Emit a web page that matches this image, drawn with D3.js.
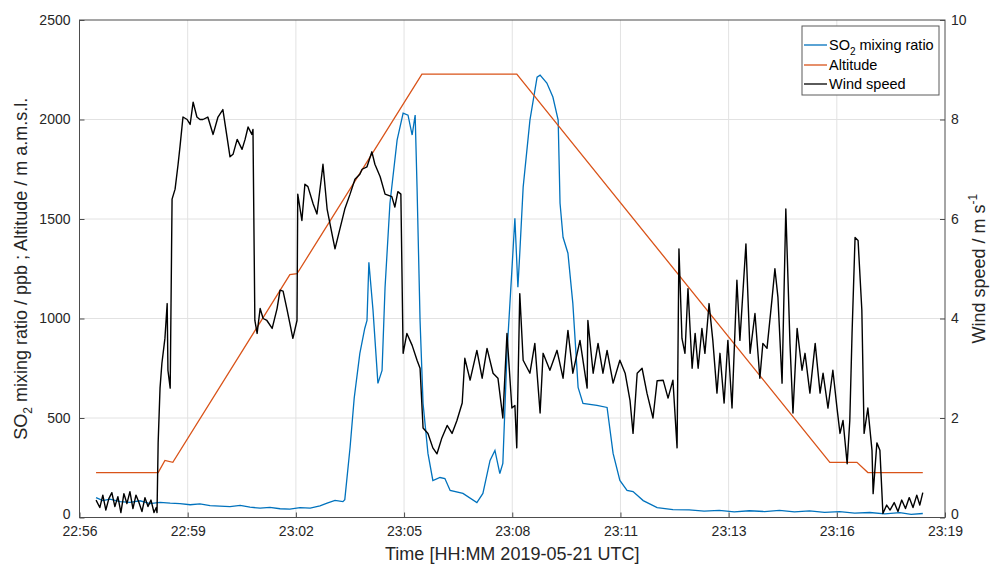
<!DOCTYPE html>
<html>
<head>
<meta charset="utf-8">
<script src="https://cdn.jsdelivr.net/npm/d3@7"></script>
<style>
body { margin: 0; background: #fff; }
svg { font-family: "Liberation Sans", Arial, sans-serif; }
.grid line { stroke: #e2e2e2; stroke-width: 1; }
.axis path { display: none; }
.axis line { stroke: #4d4d4d; }
.axis text { font-size: 14px; fill: #262626; }
.label { font-size: 18px; fill: #262626; }
.legend { font-size: 14.5px; fill: #000; }
</style>
</head>
<body>
<svg id="chart" width="991" height="565"></svg>
<script>
// tick labels of the time axis (evenly spaced)
const timeTicks = ["22:56", "22:59", "23:02", "23:05", "23:08", "23:11", "23:13", "23:16", "23:19"];
const leftTicks = [0, 500, 1000, 1500, 2000, 2500];
const rightTicks = [0, 2, 4, 6, 8, 10];

// [minutes after 22:56, ppb]
const so2Data = [
  [0.44, 100], [0.62, 85], [0.81, 92], [1.08, 80], [1.34, 76], [1.61, 84], [1.87, 70], [2.14, 76],
  [2.41, 72], [2.67, 70], [2.94, 64], [3.20, 68], [3.47, 60], [3.73, 57], [4.00, 55], [4.27, 61],
  [4.53, 52], [4.80, 47], [5.06, 51], [5.33, 44], [5.59, 42], [5.86, 50], [6.13, 47], [6.39, 58],
  [6.58, 72], [6.79, 86], [7.00, 80], [7.05, 90], [7.19, 352], [7.30, 600], [7.45, 825], [7.58, 950],
  [7.64, 990], [7.69, 1283], [7.80, 1041], [7.93, 674], [8.04, 739], [8.12, 1157], [8.25, 1579],
  [8.44, 1896], [8.60, 2032], [8.73, 2022], [8.84, 1922], [8.92, 2022], [8.97, 1660], [9.05, 990],
  [9.13, 573], [9.26, 322], [9.39, 186], [9.58, 201], [9.71, 196], [9.85, 136], [10.19, 121],
  [10.56, 75], [10.72, 121], [10.91, 287], [11.04, 337], [11.17, 221], [11.25, 272], [11.36, 825],
  [11.49, 1242], [11.57, 1504], [11.65, 1157], [11.70, 1328], [11.79, 1660], [11.97, 1997],
  [12.16, 2213], [12.24, 2223], [12.42, 2183], [12.58, 2113], [12.72, 1997], [12.77, 1579],
  [12.85, 1408], [12.98, 1328], [13.11, 1076], [13.25, 654], [13.38, 573], [13.75, 563], [14.02, 553],
  [14.18, 322], [14.36, 186], [14.55, 136], [14.71, 130], [14.98, 85], [15.35, 50], [15.77, 40],
  [16.20, 38], [16.60, 32], [17.00, 36], [17.40, 28], [17.80, 34], [18.20, 30], [18.60, 36],
  [19.00, 28], [19.40, 33], [19.80, 26], [20.20, 30], [20.60, 22], [21.00, 25], [21.40, 18],
  [21.80, 24], [22.10, 16], [22.41, 20]
];

// [minutes after 22:56, m a.m.s.l.]
const altitudeData = [
  [0.44, 226], [2.09, 226], [2.27, 287], [2.48, 277], [5.59, 1220], [5.78, 1225], [9.10, 2228],
  [11.62, 2228], [19.94, 277], [20.66, 277], [20.95, 226], [22.41, 226]
];

// [minutes after 22:56, m/s]
const windData = [
  [0.44, 0.35], [0.54, 0.20], [0.62, 0.45], [0.70, 0.15], [0.78, 0.38], [0.86, 0.50], [0.94, 0.22],
  [1.02, 0.42], [1.10, 0.10], [1.18, 0.48], [1.26, 0.28], [1.34, 0.52], [1.42, 0.18], [1.50, 0.45],
  [1.58, 0.30], [1.66, 0.12], [1.74, 0.40], [1.82, 0.22], [1.90, 0.35], [1.98, 0.10], [2.04, 0.20],
  [2.06, 0.10], [2.09, 1.5], [2.14, 2.6], [2.19, 3.1], [2.27, 3.6], [2.33, 4.3], [2.35, 2.96],
  [2.41, 2.6], [2.46, 6.4], [2.54, 6.6], [2.62, 7.1], [2.67, 7.45], [2.75, 8.05], [2.86, 8.0],
  [2.94, 7.9], [3.02, 8.35], [3.12, 8.05], [3.20, 8.0], [3.28, 8.0], [3.41, 8.05], [3.55, 7.7],
  [3.68, 8.05], [3.81, 8.2], [3.92, 7.65], [4.00, 7.25], [4.08, 7.3], [4.19, 7.6], [4.32, 7.4],
  [4.40, 7.6], [4.48, 7.85], [4.58, 7.7], [4.61, 7.8], [4.66, 3.96], [4.72, 3.7], [4.80, 4.2],
  [4.88, 4.0], [4.98, 3.96], [5.12, 3.8], [5.25, 4.2], [5.33, 4.57], [5.41, 4.55], [5.51, 4.2],
  [5.59, 3.9], [5.67, 3.6], [5.78, 3.96], [5.80, 6.5], [5.91, 5.97], [5.99, 6.7], [6.07, 6.65],
  [6.21, 6.3], [6.31, 6.1], [6.44, 6.9], [6.47, 7.1], [6.58, 6.2], [6.71, 5.7], [6.79, 5.4],
  [6.92, 5.8], [7.05, 6.2], [7.19, 6.5], [7.32, 6.8], [7.45, 6.9], [7.51, 7.0], [7.64, 7.05],
  [7.77, 7.35], [7.85, 7.1], [7.99, 6.85], [8.12, 6.5], [8.30, 6.45], [8.38, 6.24], [8.46, 6.55],
  [8.54, 6.5], [8.60, 3.3], [8.70, 3.7], [8.84, 3.46], [8.97, 3.16], [9.05, 3.0], [9.13, 1.8],
  [9.26, 1.69], [9.39, 1.4], [9.50, 1.28], [9.63, 1.6], [9.77, 1.85], [9.90, 1.69], [10.03, 1.95],
  [10.17, 2.3], [10.24, 3.2], [10.38, 2.76], [10.56, 3.36], [10.70, 2.8], [10.83, 3.4], [10.99, 2.9],
  [11.12, 2.8], [11.25, 2.0], [11.36, 3.7], [11.49, 2.2], [11.57, 2.25], [11.62, 1.4], [11.70, 4.5],
  [11.79, 3.16], [11.97, 2.9], [12.10, 3.5], [12.24, 2.1], [12.32, 3.3], [12.50, 2.96], [12.69, 3.36],
  [12.85, 2.8], [12.98, 3.76], [13.11, 2.9], [13.30, 3.56], [13.49, 2.6], [13.51, 3.96], [13.65, 2.9],
  [13.78, 3.5], [13.91, 2.9], [14.02, 3.36], [14.18, 2.7], [14.36, 3.16], [14.50, 2.9], [14.63, 2.35],
  [14.71, 1.69], [14.82, 2.9], [14.95, 3.0], [15.08, 2.5], [15.24, 2.0], [15.35, 2.75], [15.51, 2.76],
  [15.64, 2.4], [15.77, 2.76], [15.88, 1.4], [15.93, 5.4], [16.01, 3.6], [16.09, 3.3], [16.17, 4.6],
  [16.28, 3.0], [16.36, 3.7], [16.44, 3.0], [16.54, 3.8], [16.62, 3.3], [16.73, 4.3], [16.83, 3.56],
  [16.94, 2.5], [17.02, 3.3], [17.13, 2.3], [17.23, 3.56], [17.34, 2.2], [17.47, 4.77], [17.55, 3.56],
  [17.71, 5.5], [17.82, 3.3], [17.95, 4.1], [18.08, 2.8], [18.16, 3.5], [18.27, 3.4], [18.40, 4.37],
  [18.48, 5.0], [18.56, 4.43], [18.67, 2.7], [18.77, 6.2], [18.88, 3.5], [18.96, 2.1], [19.07, 3.8],
  [19.20, 2.96], [19.28, 3.3], [19.41, 2.5], [19.55, 3.5], [19.68, 2.5], [19.76, 2.9], [19.89, 2.2],
  [20.02, 2.96], [20.13, 2.2], [20.21, 1.69], [20.29, 1.95], [20.40, 1.08], [20.47, 1.95], [20.53, 3.7],
  [20.61, 5.63], [20.69, 5.57], [20.79, 4.17], [20.85, 1.69], [20.95, 2.2], [21.06, 1.35], [21.09, 0.48],
  [21.19, 1.5], [21.27, 1.35], [21.35, 0.08], [21.45, 0.25], [21.54, 0.15], [21.65, 0.30], [21.75, 0.12],
  [21.85, 0.35], [21.95, 0.18], [22.05, 0.40], [22.15, 0.20], [22.25, 0.45], [22.33, 0.25], [22.41, 0.50]
];

const legendNames = ["SO2 mixing ratio", "Altitude", "Wind speed"];
const colors = ["#0072bd", "#d95319", "#000000"];

const svg = d3.select("#chart");
const pLeft = 79.5, pRight = 945, pTop = 20, pBottom = 517.5;

const x = d3.scaleLinear().domain([0, 23]).range([pLeft, pRight]);
const yL = d3.scaleLinear().domain([0, 2500]).range([pBottom, pTop]);
const yR = d3.scaleLinear().domain([0, 10]).range([pBottom, pTop]);
const xTickVals = timeTicks.map((d, i) => i * 23 / (timeTicks.length - 1));

// grid
let grid = svg.append("g").attr("class", "grid");
grid.selectAll(".gx").data(xTickVals.slice(1, -1)).join("line").attr("class", "gx")
  .attr("x1", d => x(d)).attr("x2", d => x(d)).attr("y1", pTop).attr("y2", pBottom);
grid.selectAll(".gy").data(leftTicks.slice(1, -1)).join("line").attr("class", "gy")
  .attr("x1", pLeft).attr("x2", pRight).attr("y1", d => yL(d)).attr("y2", d => yL(d));

// lines
let lineL = d3.line().x(d => x(d[0])).y(d => yL(d[1]));
let lineR = d3.line().x(d => x(d[0])).y(d => yR(d[1]));
svg.append("path").attr("d", lineL(so2Data)).attr("fill", "none").attr("stroke", colors[0]).attr("stroke-width", 1.3);
svg.append("path").attr("d", lineL(altitudeData)).attr("fill", "none").attr("stroke", colors[1]).attr("stroke-width", 1.3);
svg.append("path").attr("d", lineR(windData)).attr("fill", "none").attr("stroke", colors[2]).attr("stroke-width", 1.4)
  .attr("stroke-linejoin", "round");

// axes
let xAxis = d3.axisBottom(x).tickValues(xTickVals).tickSize(-5).tickPadding(9)
  .tickFormat((d, i) => timeTicks[i]);
svg.append("g").attr("class", "axis").attr("transform", `translate(0,${pBottom})`).call(xAxis);
let yAxisL = d3.axisLeft(yL).tickValues(leftTicks).tickSize(-5).tickPadding(9).tickFormat(d3.format("d"));
let gl = svg.append("g").attr("class", "axis").attr("transform", `translate(${pLeft},0)`).call(yAxisL);
let yAxisR = d3.axisRight(yR).tickValues(rightTicks).tickSize(-5).tickPadding(6);
let gr = svg.append("g").attr("class", "axis").attr("transform", `translate(${pRight},0)`).call(yAxisR);
// the zero labels sit just above the time labels
gl.selectAll(".tick text").filter(d => d === 0).attr("dy", "0.05em");
gr.selectAll(".tick text").filter(d => d === 0).attr("dy", "0.05em");

// box
svg.append("rect").attr("x", pLeft).attr("y", pTop).attr("width", pRight - pLeft).attr("height", pBottom - pTop)
  .attr("fill", "none").attr("stroke", "#4d4d4d").attr("stroke-width", 1);

// axis labels
svg.append("text").attr("class", "label").attr("x", (pLeft + pRight) / 2).attr("y", 560)
  .attr("text-anchor", "middle").text("Time [HH:MM 2019-05-21 UTC]");
let ll = svg.append("text").attr("class", "label").attr("text-anchor", "middle")
  .attr("transform", `translate(27,${(pTop + pBottom) / 2}) rotate(-90)`);
ll.append("tspan").text("SO");
ll.append("tspan").attr("dy", 5).attr("font-size", 12).text("2");
ll.append("tspan").attr("dy", -5).text(" mixing ratio / ppb ; Altitude / m a.m.s.l.");
let rl = svg.append("text").attr("class", "label").attr("text-anchor", "middle")
  .attr("transform", `translate(985,${(pTop + pBottom) / 2}) rotate(-90)`);
rl.append("tspan").text("Wind speed / m s");
rl.append("tspan").attr("dy", -8).attr("font-size", 12).text("-1");

// legend
let lg = svg.append("g");
lg.append("rect").attr("x", 802).attr("y", 26).attr("width", 137).attr("height", 69)
  .attr("fill", "#fff").attr("stroke", "#5a5a5a").attr("stroke-width", 1);
let ly = [45, 65, 84];
legendNames.forEach((n, i) => {
  lg.append("line").attr("x1", 804).attr("x2", 827).attr("y1", ly[i]).attr("y2", ly[i])
    .attr("stroke", colors[i]).attr("stroke-width", 1.3);
  let t = lg.append("text").attr("class", "legend").attr("x", 829).attr("y", ly[i] + 5);
  if (i === 0) {
    t.append("tspan").text("SO");
    t.append("tspan").attr("dy", 5).attr("font-size", 10).text("2");
    t.append("tspan").attr("dy", -5).text(" mixing ratio");
  } else {
    t.text(n);
  }
});
</script>
</body>
</html>
